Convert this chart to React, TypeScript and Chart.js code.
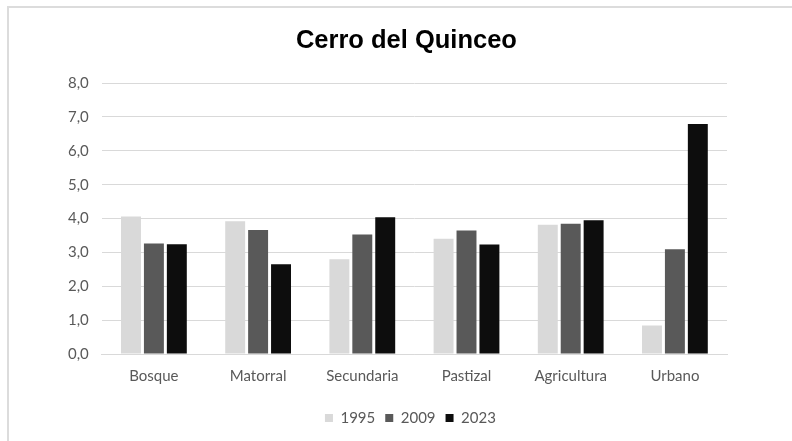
import React, { useEffect, useRef } from "react";
import { Chart, registerables } from "chart.js";

Chart.register(...registerables);

const categories = ["Bosque", "Matorral", "Secundaria", "Pastizal", "Agricultura", "Urbano"];
const series1995 = [4.06, 3.92, 2.8, 3.4, 3.82, 0.84];
const series2009 = [3.26, 3.66, 3.53, 3.65, 3.85, 3.09];
const series2023 = [3.24, 2.65, 4.04, 3.23, 3.95, 6.79];
const seriesLabels = ["1995", "2009", "2023"];
const seriesColors = ["#d9d9d9", "#595959", "#0d0d0d"];
const title = "Cerro del Quinceo";

const nudgeBlocks = {
  id: "nudgeBlocks",
  afterLayout(chart: any) {
    const t = chart.titleBlock;
    if (t) {
      t.left -= 8;
      t.right -= 8;
    }
    const l = chart.legend;
    if (l) {
      l.left -= 4;
      l.right -= 4;
    }
  },
};

export default function App() {
  const ref = useRef<HTMLCanvasElement | null>(null);

  useEffect(() => {
    if (!ref.current) return;
    const font = "Lato, 'Open Sans', sans-serif";
    const chart = new Chart(ref.current, {
      type: "bar",
      data: {
        labels: categories,
        datasets: [series1995, series2009, series2023].map((d, i) => ({
          label: seriesLabels[i],
          data: d,
          backgroundColor: seriesColors[i],
          borderWidth: 0,
          categoryPercentage: 0.66,
          barPercentage: 0.87,
        })),
      },
      options: {
        animation: false,
        responsive: false,
        maintainAspectRatio: false,
        layout: { padding: { top: 25.5, left: 55, right: 65, bottom: 5.5 } },
        plugins: {
          title: {
            display: true,
            fullSize: false,
            text: title,
            color: "#000000",
            font: { family: "'Liberation Sans', Arial, sans-serif", size: 25.5, weight: "bold" },
            padding: { top: 0, bottom: 27 },
          },
          legend: {
            display: true,
            fullSize: false,
            position: "bottom",
            title: { display: true, text: " ", font: { size: 1 }, padding: { top: 9.3, bottom: 0 } },
            labels: {
              color: "#595959",
              font: { family: font, size: 15 },
              boxWidth: 8,
              boxHeight: 8,
              padding: 10,
            },
          },
          tooltip: { enabled: false },
        },
        scales: {
          x: {
            grid: { display: false },
            border: { display: true, color: "#d9d9d9", width: 1 },
            ticks: { color: "#595959", font: { family: font, size: 15 }, padding: 5 },
          },
          y: {
            min: 0,
            max: 8,
            border: { display: false },
            grid: { color: "#d9d9d9", lineWidth: 1, drawTicks: false },
            ticks: {
              stepSize: 1,
              color: "#595959",
              font: { family: font, size: 15 },
              padding: 13,
              callback: (v: any) => Number(v).toFixed(1).replace(".", ","),
            },
          },
        },
      },
      plugins: [nudgeBlocks],
    });
    return () => chart.destroy();
  }, []);

  return (
    <div style={{ position: "fixed", left: 0, top: 0, width: 792, height: 441, background: "#ffffff", overflow: "hidden" }}>
      <canvas ref={ref} width={792} height={441} style={{ display: "block", position: "absolute", left: 0, top: 0 }} />
      <div
        style={{
          position: "absolute",
          left: 7,
          top: 6,
          width: 800,
          height: 450,
          borderTop: "2px solid #dcdcdc",
          borderLeft: "2px solid #dcdcdc",
          pointerEvents: "none",
        }}
      />
    </div>
  );
}
